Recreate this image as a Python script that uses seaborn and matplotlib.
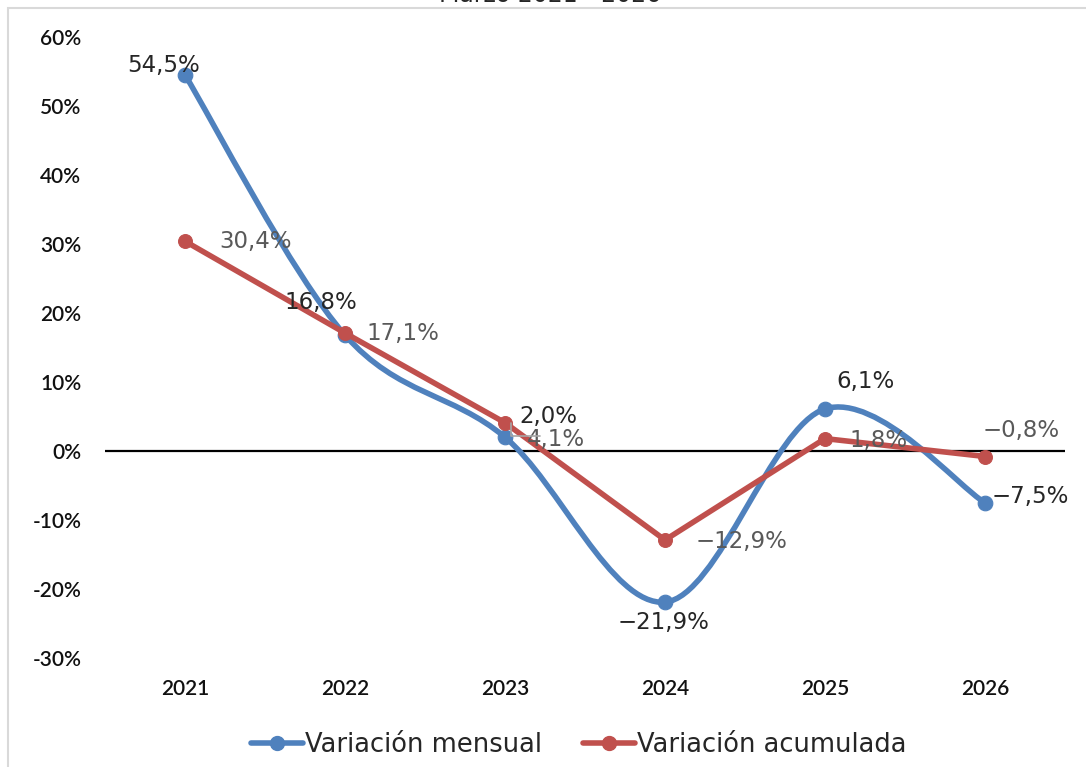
import matplotlib
matplotlib.use('Agg')
import matplotlib.pyplot as plt
import seaborn as sns
import pandas as pd
from matplotlib.path import Path
from matplotlib.patches import PathPatch, Rectangle
from matplotlib.lines import Line2D
import matplotlib.ticker as mticker

years = ['2021', '2022', '2023', '2024', '2025', '2026']
mensual = [54.5, 16.8, 2.0, -21.9, 6.1, -7.5]
acumulada = [30.4, 17.1, 4.1, -12.9, 1.8, -0.8]
yticks = [-30, -20, -10, 0, 10, 20, 30, 40, 50, 60]

BLUE = '#4F81BD'
RED = '#C0504D'
TICK_FONT = 'Lato'
LABEL_FONT = 'DejaVu Sans'

sns.set_theme(style='white')
plt.rcParams['font.family'] = ['DejaVu Sans']

df = pd.DataFrame({'x': range(len(years)), 'mensual': mensual, 'acumulada': acumulada})

fig = plt.figure(figsize=(10.86, 7.67), dpi=100)
ax = fig.add_axes([105 / 1086, 1 - 658 / 767, 960 / 1086, 621 / 767])

# smoothed line for mensual (excel style bezier)
xs = list(df['x'])
ys = mensual
verts = [(xs[0], ys[0])]
codes = [Path.MOVETO]
n = len(xs)
for i in range(n - 1):
    p0 = (xs[max(i - 1, 0)], ys[max(i - 1, 0)])
    p1 = (xs[i], ys[i])
    p2 = (xs[i + 1], ys[i + 1])
    p3 = (xs[min(i + 2, n - 1)], ys[min(i + 2, n - 1)])
    c1 = (p1[0] + (p2[0] - p0[0]) / 6, p1[1] + (p2[1] - p0[1]) / 6)
    c2 = (p2[0] - (p3[0] - p1[0]) / 6, p2[1] - (p3[1] - p1[1]) / 6)
    verts += [c1, c2, p2]
    codes += [Path.CURVE4, Path.CURVE4, Path.CURVE4]
ax.add_patch(PathPatch(Path(verts, codes), facecolor='none', edgecolor=BLUE,
                       lw=4, capstyle='round', joinstyle='round', zorder=3))
sns.scatterplot(data=df, x='x', y='mensual', color=BLUE, s=110, edgecolor=BLUE,
                zorder=4, ax=ax, legend=False)

sns.lineplot(data=df, x='x', y='acumulada', color=RED, lw=4, marker='o',
             markersize=10, markeredgecolor=RED, zorder=5, ax=ax, legend=False)

ax.axhline(0, color='black', lw=1.6, zorder=2)

ax.set_xlim(-0.5, len(years) - 0.5)
ax.set_ylim(-30, 60)
ax.set_xticks(range(len(years)))
ax.set_xticklabels(years)
ax.set_yticks(yticks)
ax.yaxis.set_major_formatter(mticker.FuncFormatter(lambda v, p: f'{int(v)}%'))
ax.tick_params(axis='both', length=0, labelsize=15, colors='#111111')
ax.tick_params(axis='y', pad=17)
ax.tick_params(axis='x', pad=15)
for lbl in ax.get_xticklabels() + ax.get_yticklabels():
    lbl.set_fontfamily(TICK_FONT)
    lbl.set_fontweight('semibold')
ax.set_xlabel('')
ax.set_ylabel('')
for s in ax.spines.values():
    s.set_visible(False)

# data labels (offsets in pixels)
off_m = [(-21, 9), (-24, 33), (43, 21), (-2, -20), (41, 27), (45, 6)]
off_a = [(71, 0), (58, 0), (51, -17), (76, -1), (53, -2), (36, 26)]
fmt = lambda v: f'{v:.1f}%'.replace('.', ',').replace('-', '\u2212')
for i, v in enumerate(mensual):
    ax.annotate(fmt(v), (i, v), xytext=off_m[i], textcoords='offset pixels',
                ha='center', va='center', fontsize=16.5, color='#262626',
                family=LABEL_FONT, zorder=6)
for i, v in enumerate(acumulada):
    ax.annotate(fmt(v), (i, v), xytext=off_a[i], textcoords='offset pixels',
                ha='center', va='center', fontsize=16.5, color='#595959',
                family=LABEL_FONT, zorder=6)
# leader line for 4,1%
ax.plot([2.04, 2.04, 2.22], [4.1, 2.2, 2.2], color='#a6a6a6', lw=1.2, zorder=6)

handles = [Line2D([], [], color=BLUE, lw=4, marker='o', markersize=10),
           Line2D([], [], color=RED, lw=4, marker='o', markersize=10)]
fig.legend(handles, ['Variación mensual', 'Variación acumulada'], loc='center',
           bbox_to_anchor=(579 / 1086, 1 - 745 / 767), ncol=2, frameon=False,
           prop={'family': LABEL_FONT, 'size': 18.5}, handlelength=2.0,
           handletextpad=0.1, columnspacing=1.6)

# chart border and clipped title
fig.patches.append(Rectangle((8 / 1086, -0.1), 1.2, 1 - 8 / 767 + 0.1,
                             transform=fig.transFigure, fill=False,
                             edgecolor='#d9d9d9', lw=1.5))
fig.text(550 / 1086, 1 - 2 / 767, 'Marzo 2021 - 2026', ha='center',
         va='baseline', fontsize=17, family=LABEL_FONT, color='#262626')

fig.savefig('out.png', dpi=100)
